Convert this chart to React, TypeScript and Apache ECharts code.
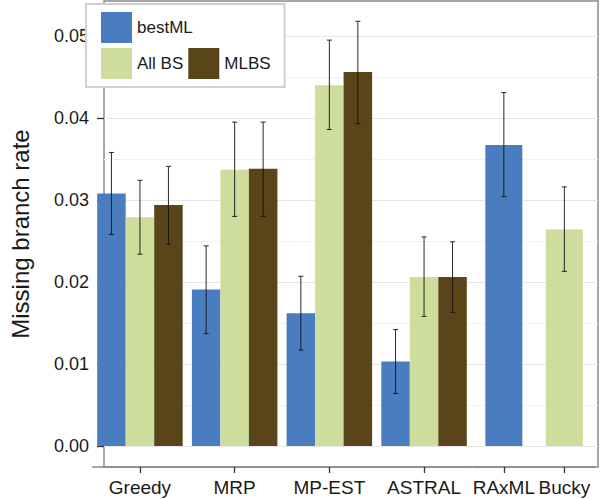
import React, { useEffect, useRef } from "react";
import * as echarts from "echarts";

const categoriesMain = ["Greedy", "MRP", "MP-EST", "ASTRAL"];
const categoriesSingle = ["RAxML", "Bucky"];

const bestMLMain = [0.0308, 0.0191, 0.0162, 0.0103];
const bestMLMainLow = [0.0258, 0.0137, 0.0117, 0.0064];
const bestMLMainHigh = [0.0358, 0.0244, 0.0207, 0.0142];

const allBSMain = [0.0279, 0.0337, 0.044, 0.0206];
const allBSMainLow = [0.0234, 0.028, 0.0386, 0.0158];
const allBSMainHigh = [0.0324, 0.0395, 0.0495, 0.0255];

const mlbsMain = [0.0294, 0.0338, 0.0456, 0.0206];
const mlbsMainLow = [0.0246, 0.028, 0.0393, 0.0163];
const mlbsMainHigh = [0.0341, 0.0395, 0.0518, 0.0249];

// RAxML (bestML only), Bucky (All BS only)
const bestMLSingle: (number | string)[] = [0.0367, "-"];
const bestMLSingleLow = [0.0304];
const bestMLSingleHigh = [0.0431];
const allBSSingle: (number | string)[] = ["-", 0.0264];
const allBSSingleLow = [0.0213];
const allBSSingleHigh = [0.0316];

const majorTicks = [0, 0.01, 0.02, 0.03, 0.04, 0.05];
const minorTicks = [0.005, 0.015, 0.025, 0.035, 0.045];

const Y_MIN = -0.00256;
const Y_MAX = 0.05427;

const COLORS = { bestML: "#4a7cc0", allBS: "#cedc9c", mlbs: "#5a4419" };
const FONT = "'Liberation Sans', Helvetica, Arial, sans-serif";
const BAR_W_MAIN = 28.5;
const BAR_W_SINGLE = 37;

function errorSeries(
  name: string,
  gridIdx: number,
  offset: number,
  data: number[][]
) {
  return {
    type: "custom",
    name: name + "-err",
    xAxisIndex: gridIdx,
    yAxisIndex: gridIdx,
    z: 5,
    silent: true,
    encode: { x: 0, y: [1, 2] },
    data,
    renderItem: (params: any, api: any) => {
      const i = api.value(0);
      const lo = api.coord([i, api.value(1)]);
      const hi = api.coord([i, api.value(2)]);
      const x = lo[0] + offset;
      const h = 2.5;
      const style = { stroke: "#111", lineWidth: 0.9 };
      return {
        type: "group",
        children: [
          { type: "line", shape: { x1: x, y1: hi[1], x2: x, y2: lo[1] }, style },
          { type: "line", shape: { x1: x - h, y1: hi[1], x2: x + h, y2: hi[1] }, style },
          { type: "line", shape: { x1: x - h, y1: lo[1], x2: x + h, y2: lo[1] }, style },
        ],
      };
    },
  };
}

export default function App() {
  const ref = useRef<HTMLDivElement>(null);
  useEffect(() => {
    if (!ref.current) return;
    const chart = echarts.init(ref.current, undefined, { renderer: "svg" });

    const hiddenY = (gi: number) => ({
      type: "value",
      gridIndex: gi,
      min: Y_MIN,
      max: Y_MAX,
      show: false,
      splitLine: { show: false },
    });

    const catX = (gi: number, data: string[]) => ({
      type: "category",
      gridIndex: gi,
      position: "bottom",
      data,
      boundaryGap: true,
      axisLine: {
        show: true,
        onZero: false,
        lineStyle: { color: "#8a8a8a", width: 1.5 },
      },
      axisTick: {
        show: true,
        alignWithLabel: true,
        interval: 0,
        length: 6,
        lineStyle: { color: "#333", width: 1.3 },
      },
      axisLabel: {
        fontSize: 19,
        color: "#1a1a1a",
        fontFamily: FONT,
        margin: 11,
        interval: 0,
      },
    });

    const mkData = (low: number[], high: number[]) =>
      low.map((l, i) => [i, l, high[i]]);

    chart.setOption({
      animation: false,
      textStyle: { fontFamily: FONT },
      grid: [
        {
          left: 83,
          top: 1,
          right: 2,
          bottom: 32,
          show: true,
          borderColor: "#8a8a8a",
          borderWidth: 1.5,
          backgroundColor: "transparent",
        },
        { left: 92.6, top: 1, width: 378.8, bottom: 32 },
        { left: 473.6, top: 1, width: 121, bottom: 32 },
      ],
      legend: {
        data: ["bestML", "\n", "All BS", "MLBS"],
        left: 86,
        top: 4,
        padding: [8, 14, 8, 15],
        itemWidth: 31,
        itemHeight: 31,
        itemGap: 5,
        icon: "rect",
        backgroundColor: "#fff",
        borderColor: "#d0d0d0",
        borderWidth: 2,
        textStyle: { fontSize: 17, color: "#1a1a1a", fontFamily: FONT },
      },
      xAxis: [
        { type: "value", gridIndex: 0, min: 0, max: 1, show: false },
        catX(1, categoriesMain),
        catX(2, categoriesSingle),
      ],
      yAxis: [
        {
          type: "value",
          gridIndex: 0,
          min: Y_MIN,
          max: Y_MAX,
          name: "Missing branch rate",
          nameLocation: "middle",
          nameRotate: 90,
          nameGap: 72,
          nameTextStyle: { fontSize: 24, color: "#1a1a1a", fontFamily: FONT },
          axisLine: { show: false },
          axisTick: {
            show: true,
            length: 7,
            customValues: majorTicks,
            lineStyle: { color: "#333", width: 1.3 },
          },
          axisLabel: {
            customValues: majorTicks,
            formatter: (v: number) => v.toFixed(2),
            fontSize: 18,
            color: "#1a1a1a",
            fontFamily: FONT,
            margin: 15,
          },
          splitLine: { show: true, lineStyle: { color: "#e6e6e6", width: 1 } },
        },
        {
          type: "value",
          gridIndex: 0,
          position: "right",
          min: Y_MIN,
          max: Y_MAX,
          axisLine: { show: false },
          axisTick: { show: false, customValues: minorTicks },
          axisLabel: { show: false, customValues: minorTicks },
          splitLine: { show: true, lineStyle: { color: "#f1f1f1", width: 1 } },
        },
        hiddenY(1),
        hiddenY(2),
      ],
      series: [
        {
          type: "bar",
          name: "bestML",
          xAxisIndex: 1,
          yAxisIndex: 2,
          data: bestMLMain,
          barWidth: BAR_W_MAIN,
          barGap: "0%",
          itemStyle: { color: COLORS.bestML },
        },
        {
          type: "bar",
          name: "All BS",
          xAxisIndex: 1,
          yAxisIndex: 2,
          data: allBSMain,
          barWidth: BAR_W_MAIN,
          barGap: "0%",
          itemStyle: { color: COLORS.allBS },
        },
        {
          type: "bar",
          name: "MLBS",
          xAxisIndex: 1,
          yAxisIndex: 2,
          data: mlbsMain,
          barWidth: BAR_W_MAIN,
          barGap: "0%",
          itemStyle: { color: COLORS.mlbs },
        },
        {
          type: "bar",
          name: "bestML",
          xAxisIndex: 2,
          yAxisIndex: 3,
          data: bestMLSingle,
          barWidth: BAR_W_SINGLE,
          barGap: "-100%",
          itemStyle: { color: COLORS.bestML },
        },
        {
          type: "bar",
          name: "All BS",
          xAxisIndex: 2,
          yAxisIndex: 3,
          data: allBSSingle,
          barWidth: BAR_W_SINGLE,
          barGap: "-100%",
          itemStyle: { color: COLORS.allBS },
        },
        {
          ...errorSeries("bestML", 1, -BAR_W_MAIN, mkData(bestMLMainLow, bestMLMainHigh)),
          yAxisIndex: 2,
        },
        {
          ...errorSeries("All BS", 1, 0, mkData(allBSMainLow, allBSMainHigh)),
          yAxisIndex: 2,
        },
        {
          ...errorSeries("MLBS", 1, BAR_W_MAIN, mkData(mlbsMainLow, mlbsMainHigh)),
          yAxisIndex: 2,
        },
        {
          ...errorSeries("bestML", 2, 0, [[0, bestMLSingleLow[0], bestMLSingleHigh[0]]]),
          yAxisIndex: 3,
        },
        {
          ...errorSeries("All BS", 2, 0, [[1, allBSSingleLow[0], allBSSingleHigh[0]]]),
          yAxisIndex: 3,
        },
      ],
    });
    return () => chart.dispose();
  }, []);
  return (
    <div
      ref={ref}
      style={{ position: "absolute", left: 0, top: 0, width: 600, height: 499 }}
    />
  );
}
